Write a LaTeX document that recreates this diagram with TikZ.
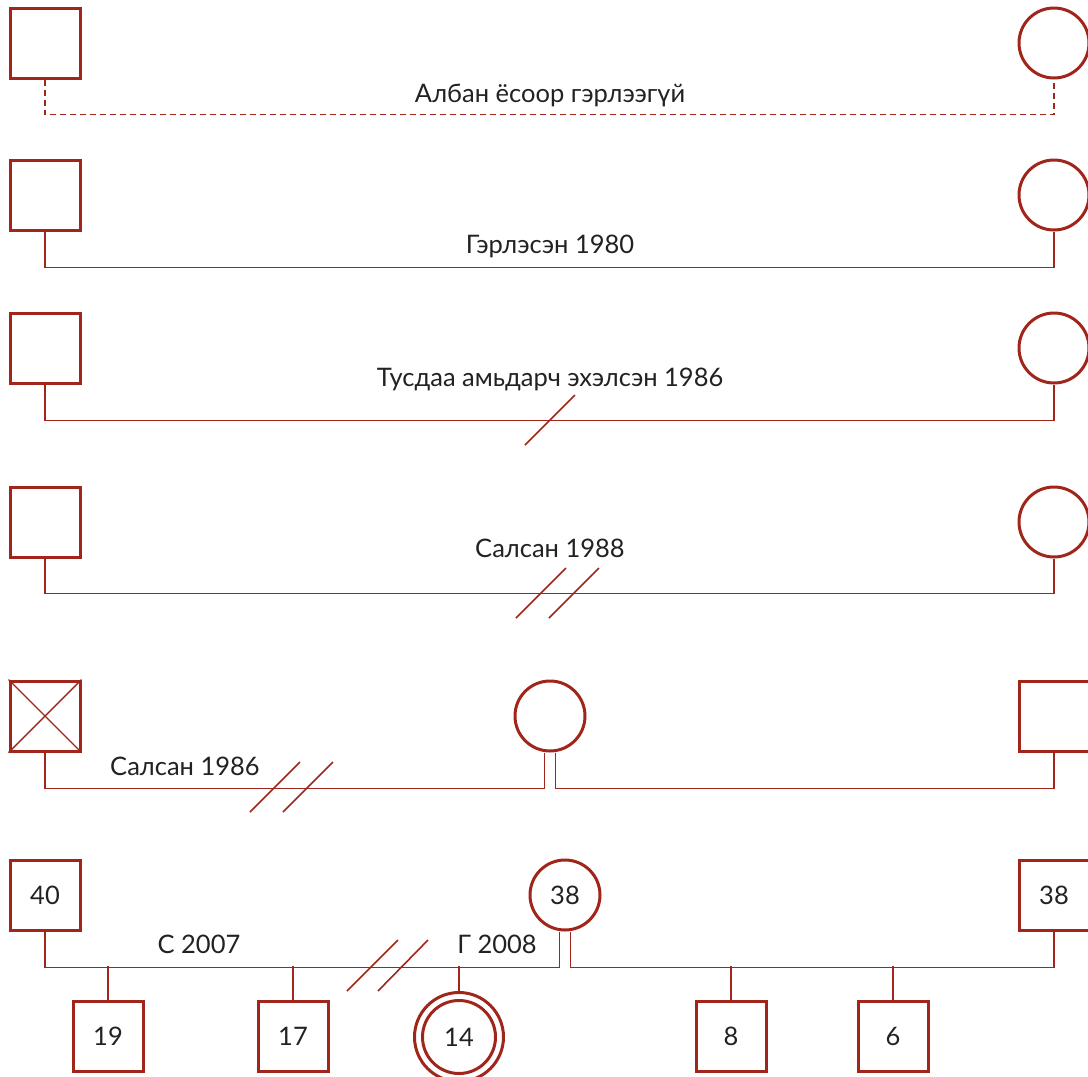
\documentclass[tikz,border=0pt]{standalone}
\usepackage{fontspec}
\setmainfont{Lato}
\definecolor{kin}{RGB}{160,38,28}
\definecolor{txt}{RGB}{34,34,34}
\begin{document}
\begin{tikzpicture}[x=1pt,y=-1pt,
  male/.style={draw=kin,line width=3pt,minimum size=70pt,inner sep=0pt,font=\fontsize{25.5}{30}\selectfont,text=txt},
  female/.style={male,circle},
  link/.style={draw=kin,line width=1.6pt},
  dashlink/.style={link,dash pattern=on 6pt off 4pt},
  slash/.style={draw=kin,line width=1.6pt},
  lbl/.style={anchor=base,font=\fontsize{25.5}{30}\selectfont,text=txt,inner sep=0pt}]
\useasboundingbox (0,0) rectangle (1088,1077);

% Row 1
\node[male] (m1) at (45,43) {};
\node[female] (f1) at (1054,43) {};
\draw[dashlink] (m1.south) -- ++(0,35) -| (f1.south);
\node[lbl] (l1) at (550,102) {Албан ёсоор гэрлээгүй};

% Row 2
\node[male] (m2) at (45,195) {};
\node[female] (f2) at (1054,195) {};
\draw[link] (m2.south) -- ++(0,36) -| (f2.south);
\node[lbl] (l2) at (550,253) {Гэрлэсэн 1980};

% Row 3
\node[male] (m3) at (45,348) {};
\node[female] (f3) at (1054,348) {};
\draw[link] (m3.south) -- ++(0,36) -| (f3.south);
\node[lbl] (l3) at (550,386) {Тусдаа амьдарч эхэлсэн 1986};
\draw[slash] (525,445) -- (575,395);

% Row 4
\node[male] (m4) at (45,522) {};
\node[female] (f4) at (1054,522) {};
\draw[link] (m4.south) -- ++(0,35) -| (f4.south);
\node[lbl] (l4) at (550,557) {Салсан 1988};
\draw[slash] (516,618) -- (566,568);
\draw[slash] (549,618) -- (599,568);

% Row 5
\node[male] (m5) at (45,716) {};
\draw[kin,line width=1.4pt] (m5.north west) -- (m5.south east) (m5.north east) -- (m5.south west);
\node[female] (f5) at (550,716) {};
\node[male] (m5b) at (1054,716) {};
\draw[link] (m5.south) -- ++(0,36) -| ([xshift=-5.5pt]f5.south);
\draw[link] ([xshift=5.5pt]f5.south) -- ++(0,36) -| (m5b.south);
\node[lbl] (l5) at (185,775) {Салсан 1986};
\draw[slash] (250,812) -- (300,762);
\draw[slash] (283,812) -- (333,762);

% Row 6
\node[male] (m6) at (45,895) {40};
\node[female] (f6) at (565,895) {38};
\node[male] (m6b) at (1054,895) {38};
\draw[link] (m6.south) -- ++(0,36) -| ([xshift=-5.5pt]f6.south);
\draw[link] ([xshift=5.5pt]f6.south) -- ++(0,36) -| (m6b.south);
\node[lbl] (l6a) at (199,953) {С 2007};
\node[lbl] (l6b) at (497,953) {Г 2008};
\draw[slash] (347,991) -- (398,940);
\draw[slash] (378,991) -- (428,940);

\coordinate (j1) at (108,966);
\coordinate (j2) at (293,966);
\coordinate (j3) at (459,966);
\coordinate (j4) at (731,966);
\coordinate (j5) at (893,966);

% Children
\node[male] (k19) at (108,1036) {19};
\node[male] (k17) at (293,1036) {17};
\node[female,minimum size=89pt] (k14o) at (459,1037) {};
\node[female,minimum size=73pt] (k14) at (459,1037) {14};
\node[male] (k8) at (731,1036) {8};
\node[male] (k6) at (893,1036) {6};

\draw[link] (j1) -- (k19.north);
\draw[link] (j2) -- (k17.north);
\draw[link] (j3) -- (k14o.north);
\draw[link] (j4) -- (k8.north);
\draw[link] (j5) -- (k6.north);
\end{tikzpicture}
\end{document}
